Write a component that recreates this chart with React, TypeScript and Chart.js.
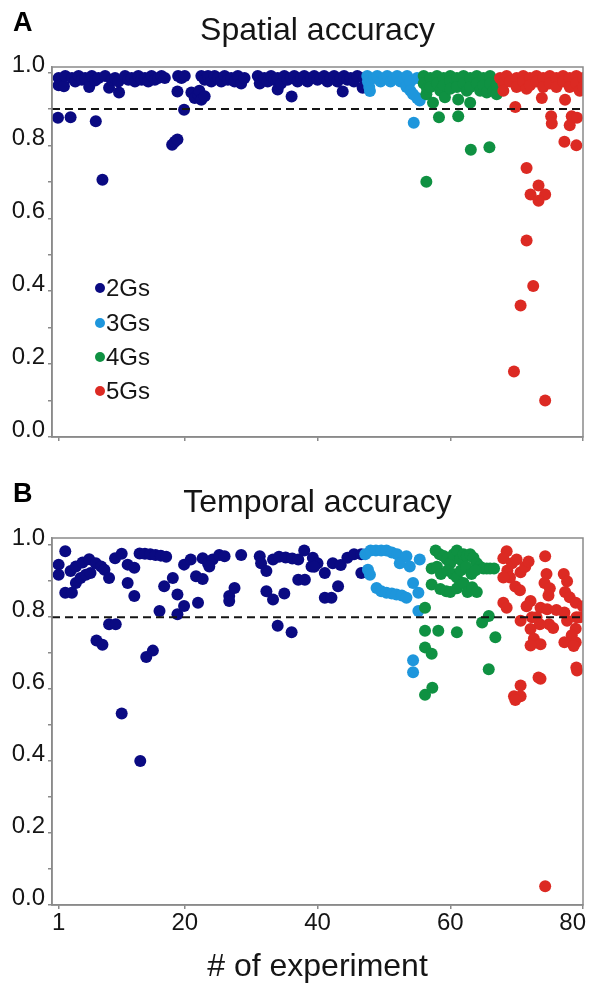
import React, { useEffect, useRef } from 'react';
import { Chart, registerables } from 'chart.js';
Chart.register(...registerables);

type P = [number, number];

const seriesNames = ['2Gs', '3Gs', '4Gs', '5Gs'];
const seriesColors = ['#0a0a82', '#1e96dc', '#0f9142', '#dc2a23'];
const xTickValues = [1, 20, 40, 60, 80];
const yTickValues = [0, 0.1, 0.2, 0.3, 0.4, 0.5, 0.6, 0.7, 0.8, 0.9, 1.0];
const yTickLabels = ['0.0', '', '0.2', '', '0.4', '', '0.6', '', '0.8', '', '1.0'];
const panelLetters = ['A', 'B'];
const panelTitles = ['Spatial accuracy', 'Temporal accuracy'];
const xAxisTitle = '# of experiment';
const spatialThreshold = 0.9;
const temporalThreshold = 0.8;

const spatial2G: P[] = [
  [1, .985], [1, .965], [0.9, .876], [1.8, .962], [2, .99], [2.8, .877], [3, .985], [3.5, .975], [4, .99], [4.5, .98],
  [5, .985], [5.6, .96], [6, .99], [6.5, .978], [6.6, .866], [7, .985], [7.6, .706], [8, .99], [8.6, .958], [9, .98],
  [9.5, .985], [10.1, .945], [10, .975], [11, .99], [11.5, .98], [12, .985], [12.5, .975], [13, .99], [13.5, .98], [14, .985],
  [14.5, .975], [15, .99], [15.5, .98], [16, .985], [16.5, .99], [17, .985], [18.1, .802], [18.5, .81], [18.9, .816], [18.9, .948],
  [19, .99], [19.5, .985], [19.9, .898], [20, .99], [21, .945], [21.5, .93], [22, .94], [22.2, .95], [22.5, .925], [23, .935],
  [22.5, .99], [23, .98], [23.5, .99], [24, .975], [24.5, .99], [25, .985], [25.5, .975], [26, .99], [26.5, .98], [27, .985],
  [27.5, .975], [28, .99], [28.5, .97], [29, .985], [31, .99], [31.3, .97], [32, .985], [32.5, .975], [33, .99], [33.5, .98],
  [34, .953], [34, .985], [34.5, .97], [35, .99], [35.5, .98], [36, .985], [36.1, .934], [36.5, .99], [37, .975], [37.5, .985],
  [38, .99], [38.5, .975], [39, .985], [39.5, .99], [40, .98], [40.5, .985], [41, .99], [41.5, .975], [42, .985], [42.5, .99],
  [43, .975], [43.5, .985], [43.8, .948], [44, .99], [44.5, .98], [45, .985], [45.5, .975], [46, .99], [46.8, .958], [47, .985],
];
const spatial3G: P[] = [
  [47.5, .99], [47.6, .975], [47.8, .96], [47.9, .949], [48.5, .985], [49, .99], [49.5, .975], [50, .985], [50.5, .99], [51, .975],
  [51.5, .985], [52, .99], [52.5, .975], [53, .985], [53.4, .96], [53.5, .99], [54, .975], [54, .95], [54.4, .94], [55, .93],
  [55.4, .923], [55, .985], [54.5, .862],
];
const spatial4G: P[] = [
  [56, .99], [56, .97], [56.4, .94], [56.5, .955], [57, .985], [57, .96], [57.4, .917], [58, .99], [58, .97], [58.3, .877],
  [58.5, .95], [59, .985], [59, .965], [59.2, .932], [60, .99], [60, .975], [60, .955], [61, .985], [61, .96], [61.2, .926],
  [61.2, .88], [62, .99], [62, .97], [62.5, .95], [63, .985], [63, .96], [63, .917], [63.1, .788], [64, .99], [64, .97],
  [64.5, .95], [65, .985], [65, .965], [65.5, .945], [65.9, .795], [66, .99], [66, .97], [66.5, .95], [67, .94], [67, .965],
  [56.4, .70],
];
const spatial5G: P[] = [
  [67.5, .985], [68, .97], [68, .95], [68.5, .99], [69, .975], [69.8, .905], [70, .985], [70, .96], [71, .99], [71, .975],
  [71.5, .955], [72, .985], [72, .965], [73, .99], [73, .975], [73.8, .93], [74, .985], [74, .96], [75, .99], [75, .97],
  [75.2, .88], [75.3, .86], [76, .985], [76, .96], [77, .99], [77, .975], [77.3, .925], [77.2, .81], [78, .985], [78, .96],
  [78.3, .88], [78, .855], [79, .99], [79, .97], [79.1, .876], [79.5, .95], [79, .8], [80, .985], [80, .96], [71.5, .738],
  [73.3, .69], [72.1, .665], [74.3, .665], [73.3, .648], [71.5, .539], [72.5, .414], [70.6, .361], [69.6, .18], [74.3, .10],
];

const temporal2G: P[] = [
  [1, .946], [1, .918], [2, .983], [2, .868], [3, .868], [2.8, .928], [3.6, .941], [4.6, .952], [5.6, .961], [6.6, .95],
  [7.4, .941], [7.9, .932], [3.6, .895], [4.3, .909], [5.1, .918], [5.8, .923], [8.6, .909], [8.6, .78], [9.6, .78], [6.7, .735],
  [7.6, .723], [9.5, .964], [10.5, .976], [11.4, .946], [12.4, .937], [11.4, .895], [12.4, .859], [13.2, .977], [14, .976], [14.8, .975],
  [15.6, .973], [16.4, .971], [17.2, .968], [14.2, .689], [15.2, .707], [16.2, .817], [16.9, .886], [18.2, .909], [18.9, .863], [18.9, .808],
  [19.9, .831], [19.9, .946], [20.9, .96], [21.7, .914], [22.7, .906], [22, .84], [22.7, .964], [23.5, .95], [24.2, .96], [25.2, .973],
  [26, .969], [23.7, .941], [26.7, .859], [27.5, .881], [26.7, .845], [28.5, .973], [31.3, .969], [31.5, .95], [32.3, .928], [32.3, .872],
  [33.3, .849], [33.3, .96], [34.2, .968], [35.2, .966], [36.2, .963], [37.1, .96], [34, .776], [36.1, .758], [35, .866], [37.1, .904],
  [38, .985], [39.1, .941], [38.1, .904], [39.3, .965], [40, .95], [39.5, .94], [41.1, .923], [41.1, .854], [42.1, .854], [43.1, .886],
  [42.3, .95], [43.5, .945], [44.5, .965], [45.5, .975], [46.6, .975], [46.6, .923], [10.5, .532], [13.3, .40],
];
const temporal3G: P[] = [
  [47.2, .975], [48, .985], [48.8, .985], [49.6, .985], [50.4, .985], [51.2, .98], [52, .975], [52.4, .95], [53.4, .969], [53.9, .941],
  [55.4, .96], [47.6, .932], [47.9, .918], [48.9, .881], [49.6, .872], [50.4, .868], [51.2, .866], [51.9, .863], [52.7, .86], [53.4, .854],
  [54.4, .895], [55.2, .868], [55.2, .817], [54.4, .68], [54.4, .647],
];
const temporal4G: P[] = [
  [57.8, .985], [58.4, .975], [59, .97], [59.5, .96], [60, .95], [60.5, .975], [61, .985], [61.5, .96], [62, .975], [62.5, .97],
  [63, .975], [63.5, .965], [64, .95], [64.5, .94], [65, .935], [65.5, .935], [66, .935], [66.6, .935], [57.2, .935], [58, .94],
  [58.6, .92], [59.6, .93], [60.4, .92], [61, .91], [61.6, .93], [62.4, .94], [63.2, .92], [63.8, .93], [57.2, .891], [58.5, .878],
  [59.4, .872], [60, .87], [61, .88], [62, .895], [62.6, .87], [63.3, .883], [64, .87], [56.2, .826], [56.2, .762], [58.2, .762],
  [61, .758], [56.2, .716], [57.2, .698], [64.8, .785], [65.8, .803], [66.8, .744], [65.8, .655], [56.2, .584], [57.3, .604],
];
const temporal5G: P[] = [
  [68.5, .983], [68, .964], [68.6, .93], [69.3, .95], [70, .96], [70.6, .925], [71.3, .94], [71.8, .955], [69, .91], [68, .91],
  [69.8, .885], [70.5, .875], [74.3, .969], [68, .84], [68.5, .826], [72.1, .845], [73.6, .826], [74.6, .822], [74.5, .92], [74.2, .895],
  [75, .88], [74.8, .86], [77.1, .92], [77.6, .9], [77.3, .87], [78, .855], [78.9, .84], [70.6, .79], [72.1, .767], [72.6, .74],
  [73.6, .725], [72.1, .721], [74.9, .78], [77.2, .813], [77.6, .79], [78.9, .768], [78.3, .75], [77.2, .73], [78.9, .73], [78.6, .72],
  [79.1, .652], [73.6, .629], [73.3, .632], [69.6, .58], [70.6, .58], [70.6, .61], [69.8, .57], [79, .66], [74.3, .052], [71.5, .83],
  [72.3, .80], [73, .8], [73.5, .78], [75.5, .77], [76, .82], [79, .8], [80, .83], [79.5, .8],
];

const FONT = 'Liberation Sans, Arial, Helvetica, sans-serif';
Chart.defaults.font.family = FONT;

const framePlugin = {
  id: 'frame',
  beforeDraw(chart: any) {
    // keep the last x label ("80") inside the page, right-aligned to the frame
    const s = chart.scales.x;
    if (!s || !s.options.ticks.display) return;
    const items = s.getLabelItems();
    const last = items[items.length - 1];
    if (last && last.options && last.options.translation) {
      last.options.textAlign = 'right';
      last.options.translation[0] = chart.chartArea.right + 3;
    }
  },
  afterDatasetsDraw(chart: any) {
    const { ctx, chartArea: a } = chart;
    ctx.save();
    ctx.strokeStyle = '#8a8a8a';
    ctx.lineWidth = 1.5;
    ctx.strokeRect(a.left, a.top, a.right - a.left, a.bottom - a.top);
    ctx.restore();
  },
};

interface PanelProps {
  top: number;
  height: number;
  title: string;
  series: P[][];
  threshold: number;
  showX: boolean;
  yMax: number;
  titlePad: [number, number];
  xAxisHeight: number;
}

function Panel(p: PanelProps) {
  const ref = useRef<HTMLCanvasElement>(null);
  useEffect(() => {
    const canvas = ref.current!;
    const datasets: any[] = [
      {
        type: 'line',
        label: 'threshold',
        data: [{ x: 0, y: p.threshold }, { x: 80, y: p.threshold }],
        borderColor: '#151515',
        borderWidth: 2,
        borderDash: [8, 5],
        pointRadius: 0,
        order: -1,
      },
      ...p.series.map((pts, i) => ({
        type: 'scatter',
        label: seriesNames[i],
        data: pts.map(([x, y]) => ({ x, y })),
        backgroundColor: seriesColors[i],
        borderWidth: 0,
        pointRadius: 6,
        pointHoverRadius: 6,
        order: 3 - i,
      })),
    ];
    const chart = new Chart(canvas, {
      type: 'scatter',
      data: { datasets },
      options: {
        animation: false,
        responsive: false,
        events: [],
        layout: { padding: { top: 0, right: 7, bottom: 0, left: 0 } },
        plugins: {
          legend: { display: false },
          tooltip: { enabled: false },
          title: {
            display: true,
            text: p.title,
            fullSize: false,
            color: '#151515',
            font: { size: 32, weight: 'normal', family: FONT, lineHeight: 1.2 },
            padding: { top: p.titlePad[0], bottom: p.titlePad[1] },
          },
        },
        scales: {
          x: {
            type: 'linear',
            min: 0,
            max: 80,
            position: 'bottom',
            afterBuildTicks: (s: any) => {
              s.ticks = xTickValues.map((v) => ({ value: v }));
            },
            ticks: {
              display: p.showX,
              color: '#151515',
              font: { size: 24, family: FONT },
              padding: 0,
              maxRotation: 0,
              autoSkip: false,
              callback: (v: any) => String(v),
            },
            grid: { drawOnChartArea: false, drawTicks: true, tickLength: 4, color: '#8a8a8a', lineWidth: 1.5 },
            border: { display: true, color: '#8a8a8a', width: 1.5 },
            title: {
              display: p.showX,
              text: xAxisTitle,
              color: '#151515',
              font: { size: 32, family: FONT, lineHeight: 1.2 },
              padding: { top: 0, bottom: 3 },
            },
            afterFit: (s: any) => {
              s.height = p.xAxisHeight;
              s.paddingLeft = 0;
              s.paddingRight = 0;
            },
          },
          y: {
            type: 'linear',
            min: 0,
            max: p.yMax,
            afterBuildTicks: (s: any) => {
              s.ticks = yTickValues.map((v) => ({ value: v }));
            },
            ticks: {
              color: '#151515',
              font: { size: 24, family: FONT },
              padding: 3,
              labelOffset: -7,
              autoSkip: false,
              callback: (_v: any, i: number) => yTickLabels[i],
            },
            grid: { drawOnChartArea: false, drawTicks: true, tickLength: 4, color: '#8a8a8a', lineWidth: 1.5 },
            border: { display: true, color: '#8a8a8a', width: 1.5 },
            afterFit: (s: any) => {
              s.width = 52;
              s.paddingTop = 0;
              s.paddingBottom = 0;
            },
          },
        },
      },
      plugins: [framePlugin],
    } as any);
    return () => chart.destroy();
  }, []);
  return (
    <canvas
      ref={ref}
      width={590}
      height={p.height}
      style={{ position: 'absolute', left: 0, top: p.top, width: 590, height: p.height }}
    />
  );
}

const letterStyle: React.CSSProperties = {
  position: 'absolute',
  left: 13,
  fontFamily: FONT,
  fontWeight: 'bold',
  fontSize: 27,
  lineHeight: '27px',
  color: '#000',
};

function Legend() {
  const rowsY = [288, 323, 357, 391];
  return (
    <>
      {seriesNames.map((name, i) => (
        <div
          key={name}
          style={{
            position: 'absolute',
            left: 95,
            top: rowsY[i] - 13,
            height: 26,
            display: 'flex',
            alignItems: 'center',
            fontFamily: FONT,
            fontSize: 24,
            color: '#151515',
          }}
        >
          <span
            style={{
              display: 'inline-block',
              width: 10,
              height: 10,
              borderRadius: '50%',
              background: seriesColors[i],
              marginRight: 1,
            }}
          />
          <span style={{ lineHeight: '26px' }}>{name}</span>
        </div>
      ))}
    </>
  );
}

export default function App() {
  return (
    <div style={{ position: 'absolute', left: 0, top: 0, width: 590, height: 989, background: '#fff', overflow: 'hidden' }}>
      <Panel
        top={0}
        height={470}
        title={panelTitles[0]}
        series={[spatial2G, spatial3G, spatial4G, spatial5G]}
        threshold={spatialThreshold}
        showX={false}
        yMax={1.015}
        titlePad={[12, 16.6]}
        xAxisHeight={33}
      />
      <Panel
        top={470}
        height={519}
        title={panelTitles[1]}
        series={[temporal2G, temporal3G, temporal4G, temporal5G]}
        threshold={temporalThreshold}
        showX={true}
        yMax={1.02}
        titlePad={[14, 15.6]}
        xAxisHeight={84}
      />
      <div style={{ ...letterStyle, top: 9 }}>{panelLetters[0]}</div>
      <div style={{ ...letterStyle, top: 480 }}>{panelLetters[1]}</div>
      <Legend />
    </div>
  );
}
